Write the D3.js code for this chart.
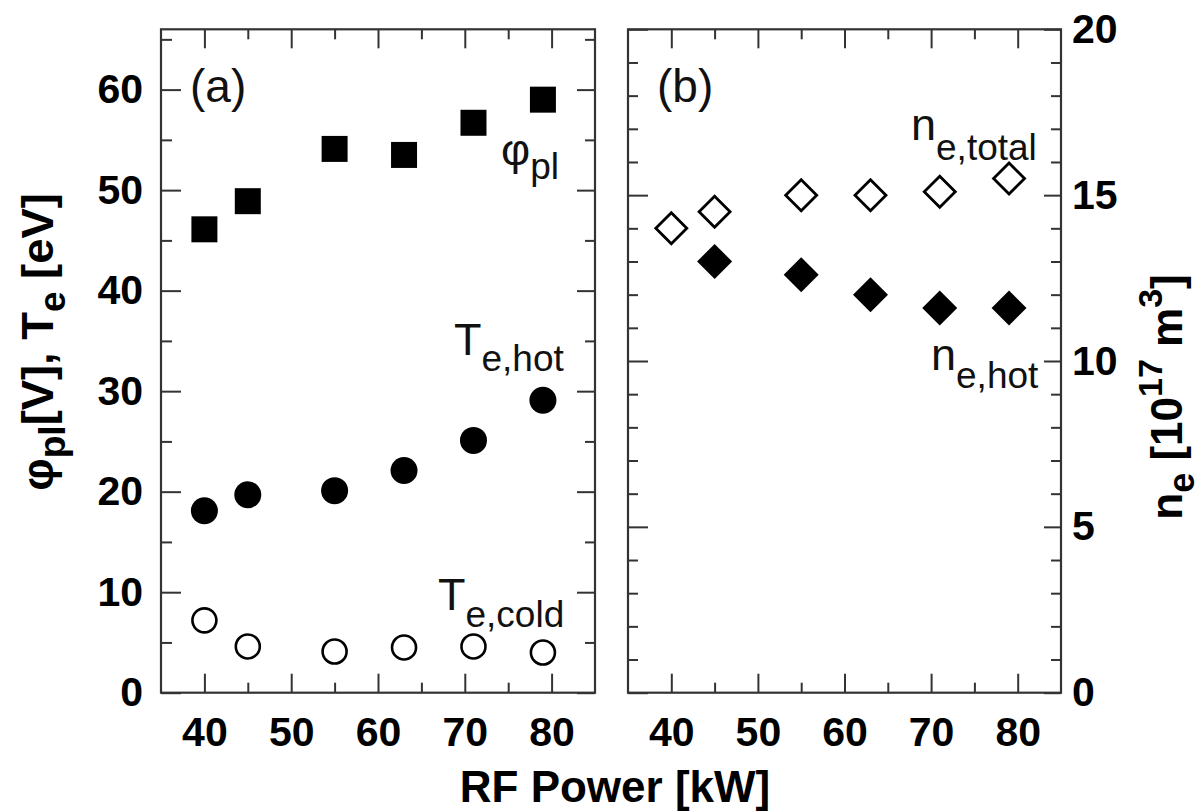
<!DOCTYPE html>
<html>
<head>
<meta charset="utf-8">
<script src="https://cdn.jsdelivr.net/npm/d3@7"></script>
<style>
  html, body { margin: 0; padding: 0; background: #fff; }
  svg { display: block; font-family: "Liberation Sans", Arial, Helvetica, sans-serif; }
</style>
</head>
<body>
<svg id="chart" width="1204" height="811"></svg>
<script>
// ---------- data ----------
const power     = [40, 45, 55, 63, 71, 79];
const phiPl     = [46.1, 48.9, 54.1, 53.5, 56.7, 59.0];
const teHot     = [18.1, 19.7, 20.1, 22.1, 25.1, 29.1];
const teCold    = [7.2, 4.6, 4.1, 4.5, 4.6, 4.0];
const neTotal   = [14.0, 14.5, 15.0, 15.0, 15.1, 15.5];
const powerHot  = [45, 55, 63, 71, 79];
const neHot     = [13.0, 12.6, 12.0, 11.6, 11.6];

const xMajor = [40, 50, 60, 70, 80];
const xMinor = [45, 55, 65, 75];
const yaMajor = [0, 10, 20, 30, 40, 50, 60];
const yaMinor = [5, 15, 25, 35, 45, 55, 65];
const ybMajor = [0, 5, 10, 15, 20];
const ybMinor = [1,2,3,4,6,7,8,9,11,12,13,14,16,17,18,19];

// ---------- layout ----------
const svg = d3.select("#chart");
const yTop = 29.3, yBot = 692.7;
const xa = d3.scaleLinear().domain([35, 85]).range([161, 595]);
const xb = d3.scaleLinear().domain([35, 85]).range([628, 1061]);
const ya = d3.scaleLinear().domain([0, 66]).range([yBot, yTop]);
const yb = d3.scaleLinear().domain([0, 20]).range([yBot, yTop]);

const AX = "#333";
const tickFont = 41;

function styleAxis(g) {
  g.select(".domain").remove();
  g.selectAll(".tick line").attr("stroke", AX).attr("stroke-width", 2);
  g.selectAll(".tick text")
    .attr("fill", "#000")
    .style("font-size", tickFont + "px")
    .style("font-weight", "bold")
    .style("font-family", '"Liberation Sans", Arial, sans-serif');
}

function addAxis(axisGen, tx, ty) {
  const g = svg.append("g").attr("transform", `translate(${tx},${ty})`).call(axisGen);
  styleAxis(g);
  return g;
}

// panel a axes
addAxis(d3.axisBottom(xa).tickValues(xMajor).tickSize(-19).tickPadding(24).tickFormat(d3.format("d")), 0, yBot);
addAxis(d3.axisBottom(xa).tickValues(xMinor).tickSize(-10).tickFormat(""), 0, yBot);
addAxis(d3.axisTop(xa).tickValues(xMajor).tickSize(-19).tickFormat(""), 0, yTop);
addAxis(d3.axisTop(xa).tickValues(xMinor).tickSize(-10).tickFormat(""), 0, yTop);
addAxis(d3.axisLeft(ya).tickValues(yaMajor).tickSize(-20).tickPadding(18).tickFormat(d3.format("d")), 161, 0);
addAxis(d3.axisLeft(ya).tickValues(yaMinor).tickSize(-11).tickFormat(""), 161, 0);
addAxis(d3.axisRight(ya).tickValues(yaMajor).tickSize(-18).tickFormat(""), 595, 0);
addAxis(d3.axisRight(ya).tickValues(yaMinor).tickSize(-10).tickFormat(""), 595, 0);

// panel b axes
addAxis(d3.axisBottom(xb).tickValues(xMajor).tickSize(-19).tickPadding(24).tickFormat(d3.format("d")), 0, yBot);
addAxis(d3.axisBottom(xb).tickValues(xMinor).tickSize(-10).tickFormat(""), 0, yBot);
addAxis(d3.axisTop(xb).tickValues(xMajor).tickSize(-19).tickFormat(""), 0, yTop);
addAxis(d3.axisTop(xb).tickValues(xMinor).tickSize(-10).tickFormat(""), 0, yTop);
addAxis(d3.axisLeft(yb).tickValues(ybMajor).tickSize(-20).tickFormat(""), 628, 0);
addAxis(d3.axisLeft(yb).tickValues(ybMinor).tickSize(-10).tickFormat(""), 628, 0);
addAxis(d3.axisRight(yb).tickValues(ybMajor).tickSize(-17).tickPadding(11).tickFormat(d3.format("d")), 1061, 0);
addAxis(d3.axisRight(yb).tickValues(ybMinor).tickSize(-10).tickFormat(""), 1061, 0);

// frames
[[161, 595], [628, 1061]].forEach(([l, r]) => {
  svg.append("rect")
    .attr("x", l).attr("y", yTop).attr("width", r - l).attr("height", yBot - yTop)
    .attr("fill", "none").attr("stroke", AX).attr("stroke-width", 2.2);
});

// ---------- markers ----------
const sq = d3.symbol().type(d3.symbolSquare).size(26 * 26);
const circ = d3.symbol().type(d3.symbolCircle).size(Math.PI * 13.5 * 13.5);
const circOpen = d3.symbol().type(d3.symbolCircle).size(Math.PI * 12 * 12);
const diaFill = d3.symbol().type(d3.symbolSquare).size(Math.pow(17.5 * Math.SQRT2, 2));
const diaOpen = d3.symbol().type(d3.symbolSquare).size(Math.pow(15.5 * Math.SQRT2, 2));

function plot(xs, ys, xScale, yScale, sym, fill, stroke, sw, rot) {
  svg.append("g").selectAll("path")
    .data(xs.map((x, i) => [x, ys[i]]))
    .join("path")
    .attr("d", sym)
    .attr("transform", d => `translate(${xScale(d[0])},${yScale(d[1])})` + (rot ? " rotate(45)" : ""))
    .attr("fill", fill)
    .attr("stroke", stroke)
    .attr("stroke-width", sw);
}

plot(power, phiPl, xa, ya, sq, "#000", "none", 0, false);
plot(power, teHot, xa, ya, circ, "#000", "none", 0, false);
plot(power, teCold, xa, ya, circOpen, "#fff", "#000", 2.6, false);
plot(power, neTotal, xb, yb, diaOpen, "#fff", "#000", 2.8, true);
plot(powerHot, neHot, xb, yb, diaFill, "#000", "none", 0, true);

// ---------- annotations ----------
const mainSize = 45, subSize = 37;
function label(x, y, main, sub, dy) {
  const t = svg.append("text").attr("x", x).attr("y", y)
    .attr("fill", "#111").style("font-size", mainSize + "px");
  t.append("tspan").text(main);
  t.append("tspan").attr("dy", dy).style("font-size", subSize + "px").text(sub);
}
svg.append("text").attr("x", 190).attr("y", 102).attr("fill", "#111")
  .style("font-size", "46px").text("(a)");
svg.append("text").attr("x", 657).attr("y", 102).attr("fill", "#111")
  .style("font-size", "46px").text("(b)");

label(501, 165, "φ", "pl", 14);
label(454, 355, "T", "e,hot", 16);
label(438, 610, "T", "e,cold", 17);
label(911, 140, "n", "e,total", 20);
label(931, 370, "n", "e,hot", 18);

// ---------- axis titles ----------
svg.append("text")
  .attr("x", 615).attr("y", 802)
  .attr("text-anchor", "middle")
  .style("font-size", "44px").style("font-weight", "bold")
  .text("RF Power [kW]");

const lt = svg.append("text")
  .attr("transform", "translate(53,342) rotate(-90) scale(1.03,1)")
  .attr("text-anchor", "middle")
  .style("font-size", "44px").style("font-weight", "bold");
lt.append("tspan").text("φ");
lt.append("tspan").attr("dy", 12).style("font-size", "36px").text("pl");
lt.append("tspan").attr("dy", -12).text("[V], T");
lt.append("tspan").attr("dy", 12).style("font-size", "36px").text("e");
lt.append("tspan").attr("dy", -12).text(" [eV]");

const rt = svg.append("text")
  .attr("transform", "translate(1182,397) rotate(-90)")
  .attr("text-anchor", "middle")
  .style("font-size", "44px").style("font-weight", "bold");
rt.append("tspan").text("n");
rt.append("tspan").attr("dy", 12).style("font-size", "36px").text("e");
rt.append("tspan").attr("dy", -12).text(" [10");
rt.append("tspan").attr("dy", -20).style("font-size", "34px").text("17");
rt.append("tspan").attr("dy", 20).text(" m");
rt.append("tspan").attr("dy", -20).style("font-size", "34px").text("3");
rt.append("tspan").attr("dy", 20).text("]");
</script>
</body>
</html>
